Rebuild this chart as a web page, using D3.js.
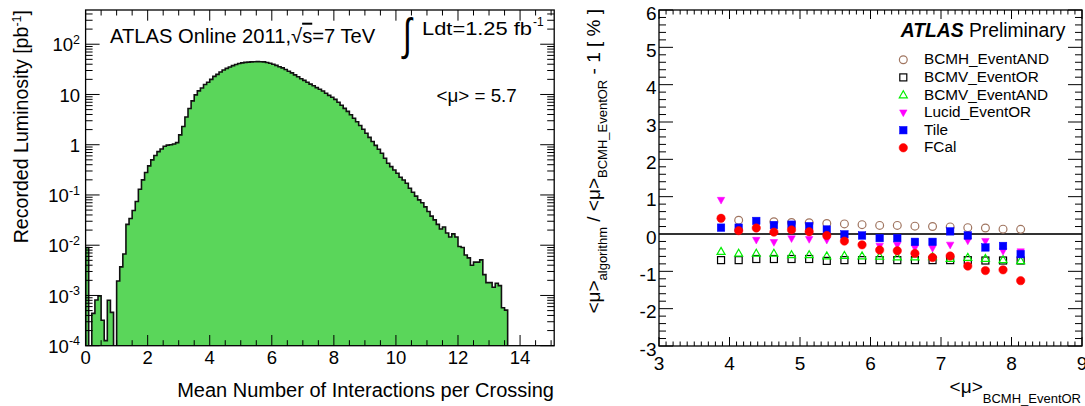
<!DOCTYPE html>
<html><head><meta charset="utf-8">
<script src="https://cdn.jsdelivr.net/npm/d3@7"></script>
<style>
body{margin:0;background:#fff}
svg{display:block}
text{font-family:"Liberation Sans",Arial,Helvetica,sans-serif;fill:#000}
</style></head>
<body><svg id="c" width="1085" height="406"></svg>
<script>
// ---------------- DATA ----------------
// Left panel: recorded luminosity [pb^-1] per 0.1-wide bin of mean interactions per crossing, bins start at 0
const histBinWidth = 0.1;
const histValues = [
  0.009, 0, 4.4e-4, 8.1e-4, 9.8e-4, 3.2e-4, 1.26e-4, 8.0e-4, 4.6e-4, 0,
  1.94e-3, 3.7e-3, 6.7e-3, 0.026, 0.034, 0.049, 0.074, 0.13, 0.20, 0.28,
  0.38, 0.50, 0.61, 0.73, 0.82, 0.93, 0.98, 1.0, 1.03, 1.1,
  1.57, 2.3, 3.57, 5.27, 7.45, 9.8, 11.8, 13.5, 15.8, 17.5,
  20, 22.9, 25.1, 28.1, 30.8, 33, 35.3, 37.5, 39.6, 41.3,
  42.5, 43.5, 44.1, 44.5, 44.9, 45.1, 44.9, 44.5, 43.3, 41.7,
  40, 37.9, 35.7, 33.8, 31.4, 29, 26.9, 24.5, 22.6, 20.6,
  19.1, 17.5, 16.1, 14.9, 13.7, 12.7, 11.7, 10.6, 9.6, 8.8,
  8.0, 7.0, 6.1, 5.3, 4.6, 3.95, 3.37, 2.87, 2.42, 2.03,
  1.69, 1.40, 1.16, 0.97, 0.81, 0.676, 0.538, 0.428, 0.366, 0.315,
  0.27, 0.225, 0.199, 0.171, 0.136, 0.113, 0.095, 0.080, 0.070, 0.058,
  0.047, 0.038, 0.032, 0.026, 0.021, 0.023, 0.0175, 0.0146, 0.0168, 0.0146,
  0.0094, 0.0090, 0.0064, 0.0056, 0.0040, 0.0046, 0.0046, 0.0051, 0.0026, 0.0018,
  0.0018, 0.00146, 0.00175, 0.00157, 0.00057, 0.00051
];
const histXTicks = [0, 2, 4, 6, 8, 10, 12, 14];
const histYTicks = [1e-4, 1e-3, 1e-2, 1e-1, 1, 10, 100];
const histYLabels = [["10","-4"],["10","-3"],["10","-2"],["10","-1"],["1",""],["10",""],["10","2"]];

// Right panel: relative deviation [%] vs <mu>_BCMH_EventOR
const muBCMH = [3.88, 4.13, 4.38, 4.63, 4.88, 5.13, 5.38, 5.63, 5.88, 6.13, 6.38, 6.63, 6.88, 7.13, 7.38, 7.63, 7.88, 8.13];
const bcmhEventAND = [null, 0.37, null, 0.33, 0.31, 0.30, 0.28, 0.27, 0.25, 0.23, 0.23, 0.21, 0.20, 0.19, 0.17, 0.16, 0.13, 0.125];
const bcmvEventOR  = [-0.70, -0.70, -0.67, -0.67, -0.67, -0.67, -0.72, -0.70, -0.70, -0.70, -0.70, -0.70, -0.70, -0.70, -0.70, -0.71, -0.71, -0.71];
const bcmvEventAND = [-0.47, -0.52, -0.52, -0.52, -0.56, -0.56, -0.59, -0.58, -0.59, -0.60, -0.62, -0.62, -0.61, -0.66, -0.63, -0.66, -0.69, -0.72];
const lucidEventOR = [0.91, null, -0.16, -0.22, -0.12, -0.14, -0.16, null, null, -0.32, -0.29, -0.37, -0.38, -0.29, -0.18, -0.19, -0.46, -0.47];
const tileValues   = [0.17, 0.17, 0.35, 0.24, 0.25, 0.21, 0.12, -0.01, -0.04, -0.11, -0.11, -0.21, -0.21, 0.07, -0.04, -0.36, -0.32, -0.54];
const fcalValues   = [0.42, 0.09, 0.16, 0.05, 0.11, 0.06, -0.04, -0.19, -0.29, -0.43, -0.45, -0.52, -0.63, -0.59, -0.86, -0.98, -0.96, -1.25];
const seriesNames  = ["BCMH_EventAND", "BCMV_EventOR", "BCMV_EventAND", "Lucid_EventOR", "Tile", "FCal"];
const rightXTicks = [3, 4, 5, 6, 7, 8, 9];
const rightYTicks = [-3, -2, -1, 0, 1, 2, 3, 4, 5, 6];

// ---------------- DRAW ----------------
const svg = d3.select("#c");
const defs = svg.append("defs");

function tickLine(g, x1, y1, x2, y2, w) {
  g.append("line").attr("x1", x1).attr("y1", y1).attr("x2", x2).attr("y2", y2)
    .attr("stroke", "#000").attr("stroke-width", w || 1);
}

// ===== Left panel =====
const xL = d3.scaleLinear().domain([0, 15.1]).range([85.6, 554.2]);
const yL = d3.scaleLog().domain([1e-4, 480]).range([345.7, 10]);
const L = { x0: xL.range()[0], x1: xL.range()[1], y0: yL.range()[1], y1: yL.range()[0] };
defs.append("clipPath").attr("id", "clipL").append("rect")
  .attr("x", L.x0).attr("y", L.y0).attr("width", L.x1 - L.x0).attr("height", L.y1 - L.y0);

const gL = svg.append("g");
const yBottom = L.y1 + 3;
let pth = `M${xL(0)},${yBottom}`;
histValues.forEach((v, i) => {
  const lo = i * histBinWidth, hi = (i + 1) * histBinWidth;
  const y = v >= 1e-4 ? yL(v) : yBottom;
  pth += `L${xL(lo)},${y}L${xL(hi)},${y}`;
});
pth += `L${xL(histValues.length * histBinWidth)},${yBottom}Z`;
gL.append("path").attr("d", pth).attr("clip-path", "url(#clipL)")
  .attr("fill", "#5ad65a").attr("stroke", "#111").attr("stroke-width", 1.6).attr("stroke-linejoin", "miter");

// ticks
const gLt = svg.append("g");
d3.range(0, 15.01, 0.5).forEach(t => {
  const major = histXTicks.includes(t);
  const len = major ? 10.7 : 5.5;
  tickLine(gLt, xL(t), L.y1, xL(t), L.y1 - len);
  tickLine(gLt, xL(t), L.y0, xL(t), L.y0 + len);
});
histYTicks.forEach(d => {
  tickLine(gLt, L.x0, yL(d), L.x0 + 14, yL(d));
  tickLine(gLt, L.x1, yL(d), L.x1 - 14, yL(d));
  for (let m = 2; m <= 9; m++) {
    const v = d * m;
    if (v > 480) break;
    tickLine(gLt, L.x0, yL(v), L.x0 + 7, yL(v));
    tickLine(gLt, L.x1, yL(v), L.x1 - 7, yL(v));
  }
});
gLt.append("rect").attr("x", L.x0).attr("y", L.y0).attr("width", L.x1 - L.x0).attr("height", L.y1 - L.y0)
  .attr("fill", "none").attr("stroke", "#000").attr("stroke-width", 1.3);

// tick labels
histXTicks.forEach(t => {
  gLt.append("text").attr("x", xL(t)).attr("y", 363.5).attr("text-anchor", "middle")
    .attr("font-size", 18.5).text(t);
});
histYTicks.forEach((d, i) => {
  const [b, e] = histYLabels[i];
  const t = gLt.append("text").attr("x", 80).attr("y", yL(d) + 7.2).attr("text-anchor", "end").attr("font-size", 18.5);
  t.append("tspan").text(b);
  if (e) t.append("tspan").attr("dy", -7.5).attr("font-size", 12.5).text(e);
});

// axis titles
gLt.append("text").attr("x", 554).attr("y", 397).attr("text-anchor", "end").attr("font-size", 20)
  .text("Mean Number of Interactions per Crossing");
const ytl = gLt.append("text").attr("transform", "translate(27.5,10) rotate(-90)").attr("text-anchor", "end").attr("font-size", 19.6);
ytl.append("tspan").text("Recorded Luminosity [pb");
ytl.append("tspan").attr("dy", -7).attr("font-size", 12.5).text("-1");
ytl.append("tspan").attr("dy", 7).text("]");

// annotations
const a1 = gLt.append("text").attr("x", 110).attr("y", 42.7).attr("font-size", 20.2);
a1.append("tspan").text("ATLAS Online 2011,");
a1.append("tspan").text("\u221A");
a1.append("tspan").attr("style", "text-decoration:overline").text("s");
a1.append("tspan").text("=7 TeV");
gLt.append("text").attr("transform", "translate(403,50) scale(0.8,1.12)").attr("font-size", 40).text("\u222B");
gLt.append("text").attr("x", 422).attr("y", 35).attr("font-size", 18.5)
  .attr("textLength", 110).attr("lengthAdjust", "spacingAndGlyphs").text("Ldt=1.25 fb");
gLt.append("text").attr("x", 533).attr("y", 26).attr("font-size", 12).text("-1");
gLt.append("text").attr("x", 436.5).attr("y", 101.7).attr("font-size", 18.8).text("<\u03BC> = 5.7");

// ===== Right panel =====
const xR = d3.scaleLinear().domain([3, 9]).range([659, 1082]);
const yR = d3.scaleLinear().domain([-3, 6]).range([346, 10]);
const R = { x0: 659, x1: 1082, y0: 10, y1: 346 };
const gR = svg.append("g");

d3.range(3, 9.001, 0.1).forEach(tv => {
  const t = Math.round(tv * 10) / 10;
  const major = rightXTicks.includes(t);
  const len = major ? 9 : 4.5;
  tickLine(gR, xR(t), R.y1, xR(t), R.y1 - len);
  tickLine(gR, xR(t), R.y0, xR(t), R.y0 + len);
});
d3.range(-3, 6.001, 0.2).forEach(tv => {
  const t = Math.round(tv * 10) / 10;
  const major = rightYTicks.includes(t);
  const len = major ? 14 : 7;
  tickLine(gR, R.x0, yR(t), R.x0 + len, yR(t));
  tickLine(gR, R.x1, yR(t), R.x1 - len, yR(t));
});
// zero line
gR.append("line").attr("x1", xR(3)).attr("x2", xR(9)).attr("y1", yR(0)).attr("y2", yR(0))
  .attr("stroke", "#333").attr("stroke-width", 2);

gR.append("rect").attr("x", R.x0).attr("y", R.y0).attr("width", R.x1 - R.x0).attr("height", R.y1 - R.y0)
  .attr("fill", "none").attr("stroke", "#000").attr("stroke-width", 1.3);

rightXTicks.forEach(t => {
  gR.append("text").attr("x", xR(t)).attr("y", 370).attr("text-anchor", "middle").attr("font-size", 19).text(t);
});
rightYTicks.forEach(t => {
  gR.append("text").attr("x", 656.5).attr("y", yR(t) + 9.5).attr("text-anchor", "end").attr("font-size", 19).text(t);
});

// markers
const markerStyles = [
  { type: "circle", fill: "none", stroke: "#a07560", r: 3.9 },
  { type: "square", fill: "none", stroke: "#000", s: 7 },
  { type: "tri", fill: "none", stroke: "#00ee00", s: 8 },
  { type: "itri", fill: "#ff00ff", stroke: "#ff00ff", s: 7.5 },
  { type: "square", fill: "#0000ff", stroke: "#0000ff", s: 7.5 },
  { type: "circle", fill: "#ff0000", stroke: "#ff0000", r: 4.2 }
];
function drawMarker(g, st, cx, cy) {
  if (st.type === "circle") {
    g.append("circle").attr("cx", cx).attr("cy", cy).attr("r", st.r)
      .attr("fill", st.fill).attr("stroke", st.stroke).attr("stroke-width", st.fill === "none" ? 1.2 : 0.5);
  } else if (st.type === "square") {
    g.append("rect").attr("x", cx - st.s / 2).attr("y", cy - st.s / 2).attr("width", st.s).attr("height", st.s)
      .attr("fill", st.fill).attr("stroke", st.stroke).attr("stroke-width", st.fill === "none" ? 1.2 : 0.5);
  } else if (st.type === "tri") {
    const h = st.s * 0.87;
    g.append("path").attr("d", `M${cx},${cy - h * 0.6}L${cx + st.s / 2},${cy + h * 0.4}L${cx - st.s / 2},${cy + h * 0.4}Z`)
      .attr("fill", st.fill).attr("stroke", st.stroke).attr("stroke-width", 1.2);
  } else {
    const h = st.s * 0.9;
    g.append("path").attr("d", `M${cx},${cy + h * 0.6}L${cx + st.s / 2},${cy - h * 0.4}L${cx - st.s / 2},${cy - h * 0.4}Z`)
      .attr("fill", st.fill).attr("stroke", st.stroke).attr("stroke-width", 0.5);
  }
}
const allSeries = [bcmhEventAND, bcmvEventOR, bcmvEventAND, lucidEventOR, tileValues, fcalValues];
const gPts = svg.append("g");
allSeries.forEach((vals, si) => {
  vals.forEach((v, i) => {
    if (v === null) return;
    drawMarker(gPts, markerStyles[si], xR(muBCMH[i]), yR(v));
  });
});

// legend
const gLeg = svg.append("g");
const lh = gLeg.append("text").attr("x", 900.7).attr("y", 37.3).attr("font-size", 19.3);
lh.append("tspan").attr("font-weight", "bold").attr("font-style", "italic").text("ATLAS");
lh.append("tspan").text(" Preliminary");
seriesNames.forEach((n, i) => {
  const by = 64.3 + 17.6 * i;
  drawMarker(gLeg, markerStyles[i], 903.3, by - 4.5);
  gLeg.append("text").attr("x", 924).attr("y", by).attr("font-size", 15.3).text(n);
});

// axis titles
const xtr = gR.append("text").attr("x", 1081).attr("y", 393.3).attr("text-anchor", "end").attr("font-size", 19);
xtr.append("tspan").text("<\u03BC>");
xtr.append("tspan").attr("dy", 10).attr("font-size", 13).text("BCMH_EventOR");

const ytr = gR.append("text").attr("transform", "translate(600,9) rotate(-90)").attr("text-anchor", "end").attr("font-size", 19);
ytr.append("tspan").text("<\u03BC>");
ytr.append("tspan").attr("dy", 7).attr("font-size", 13).text("algorithm");
ytr.append("tspan").attr("dy", -7).text(" / <\u03BC>");
ytr.append("tspan").attr("dy", 7).attr("font-size", 13).text("BCMH_EventOR");
ytr.append("tspan").attr("dy", -7).text(" - 1 [ % ]");
</script>
</body></html>
